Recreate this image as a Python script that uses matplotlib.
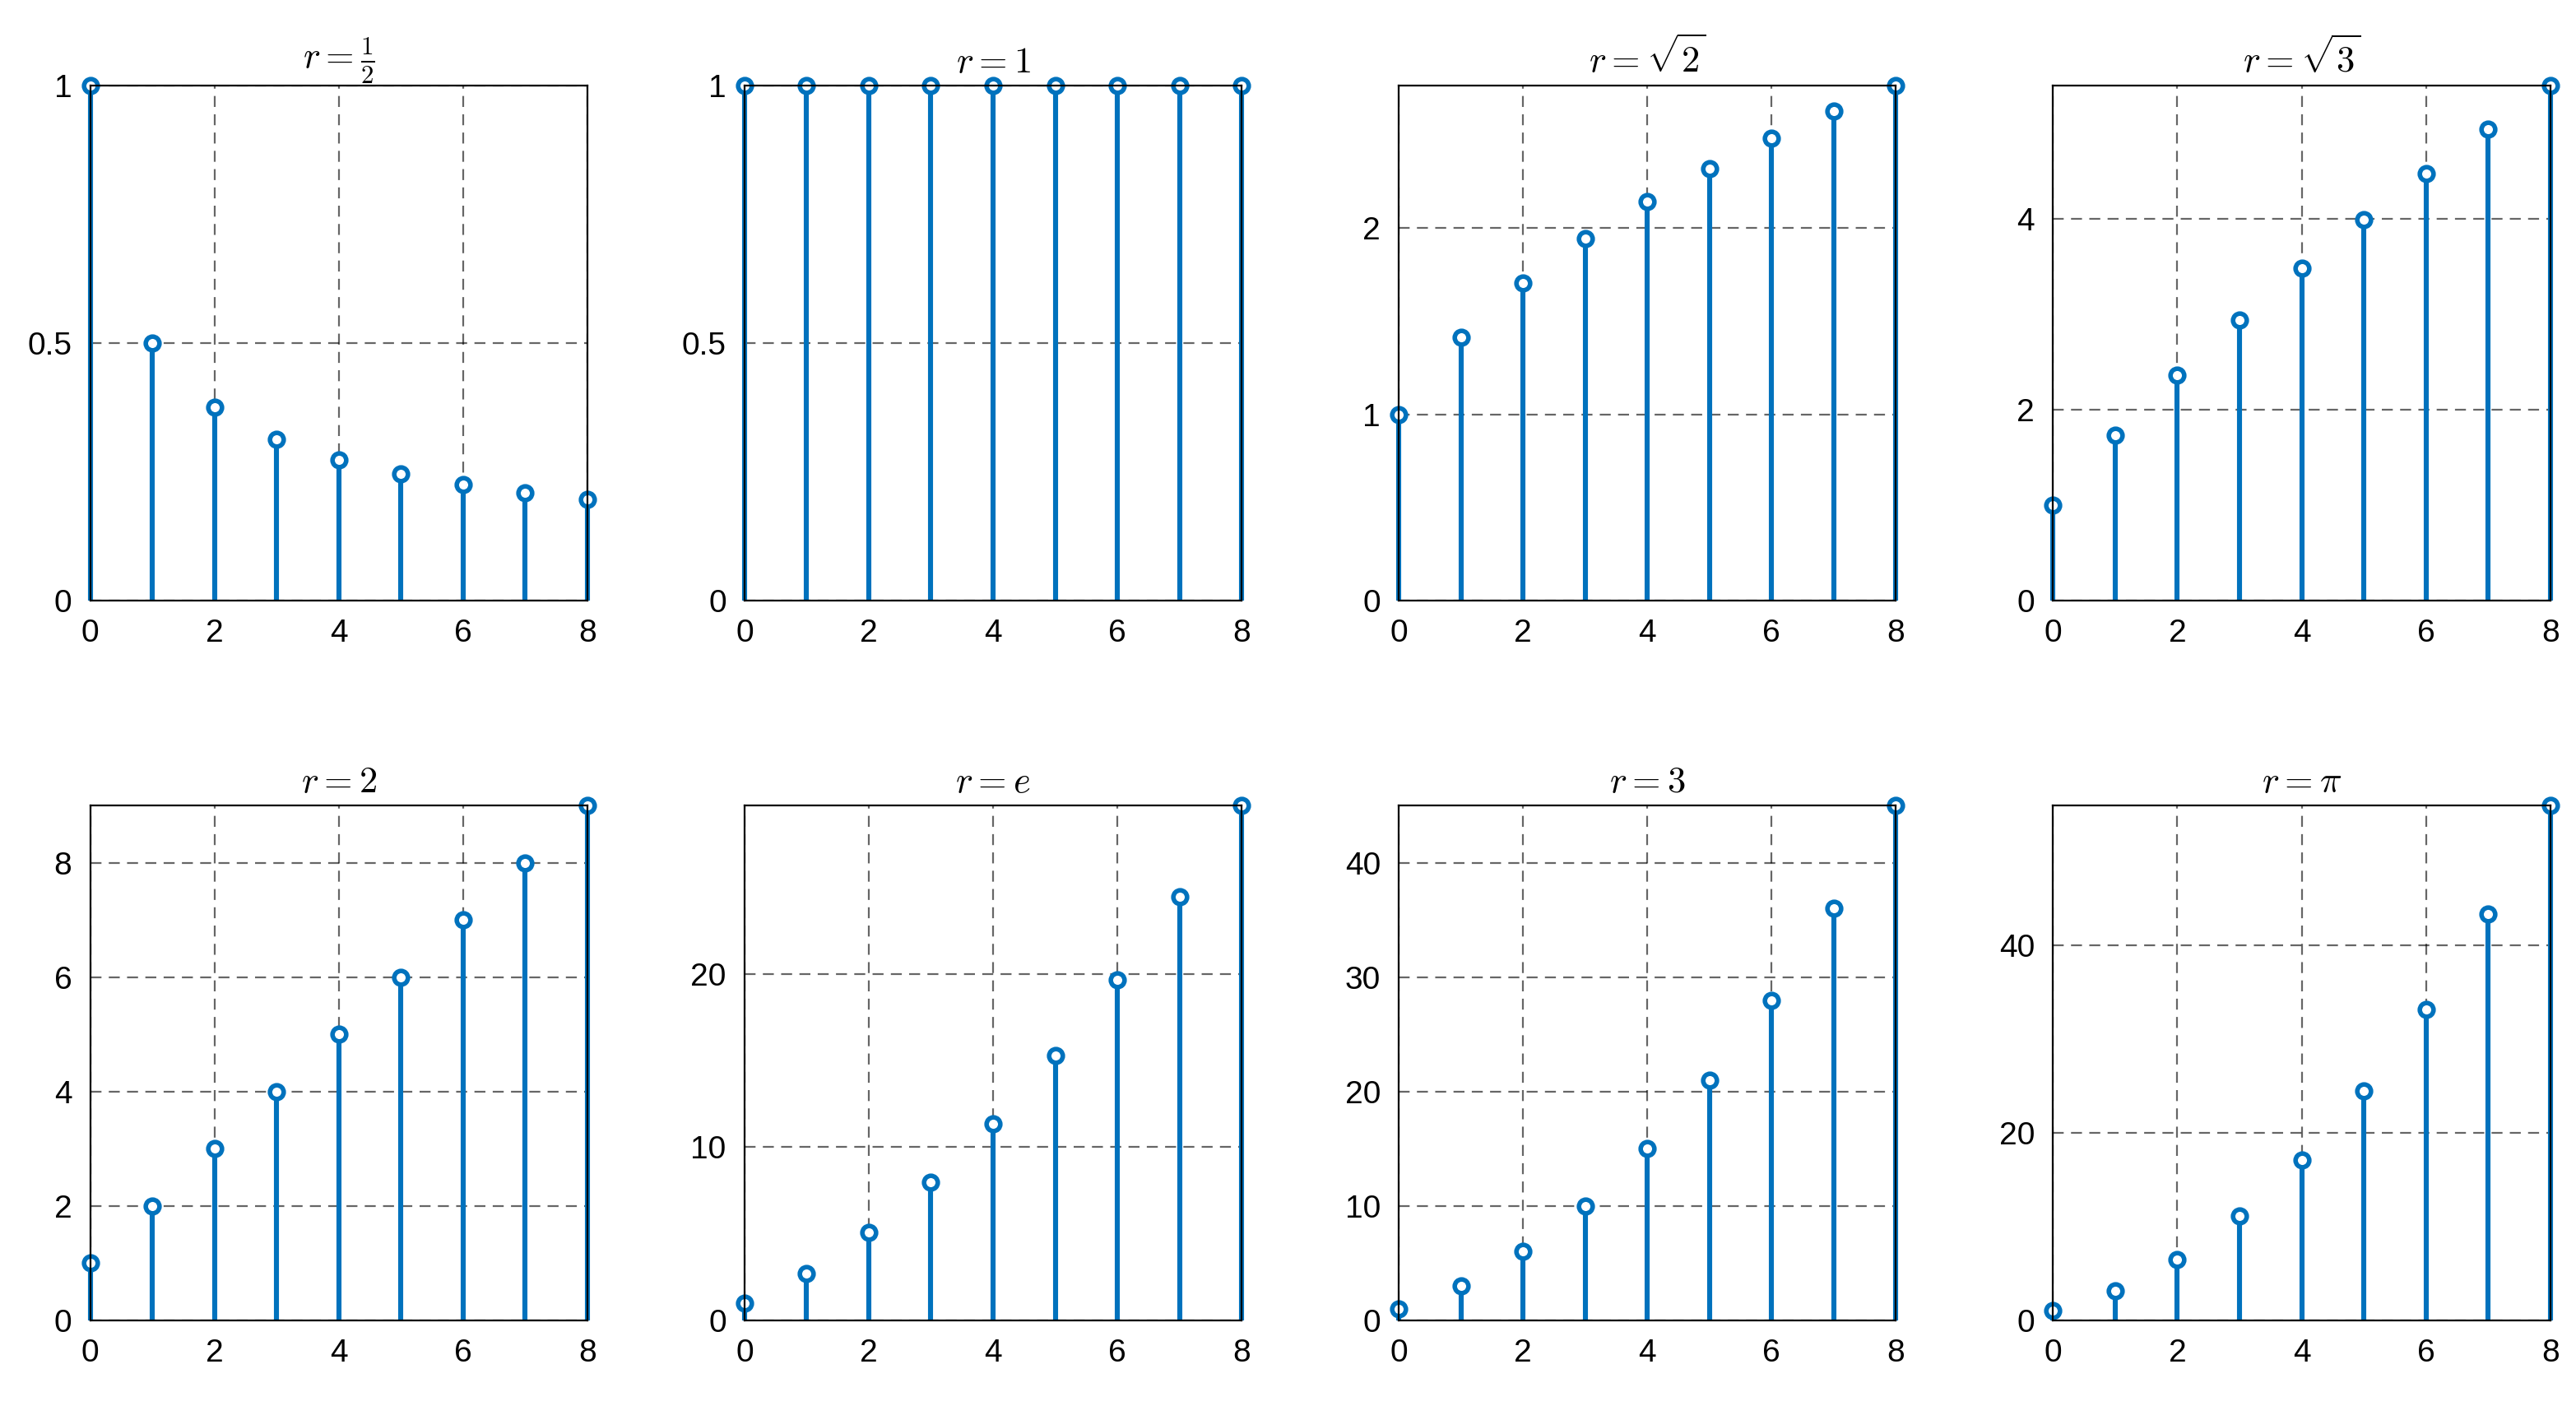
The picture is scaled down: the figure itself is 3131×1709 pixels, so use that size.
import matplotlib
matplotlib.use("Agg")
import matplotlib.pyplot as plt

plt.rcParams['mathtext.fontset'] = 'cm'
plt.rcParams['font.family'] = ['Arial', 'Liberation Sans', 'DejaVu Sans']

n = [0, 1, 2, 3, 4, 5, 6, 7, 8]
titles = [r'$r=\frac{1}{2}$', r'$r=1$', r'$r=\sqrt{2}$', r'$r=\sqrt{3}$',
          r'$r=2$', r'$r=e$', r'$r=3$', r'$r=\pi$']
series = [
    [1, 0.5, 0.375, 0.3125, 0.2734, 0.2461, 0.2256, 0.2095, 0.1964],
    [1, 1, 1, 1, 1, 1, 1, 1, 1],
    [1, 1.4142, 1.7071, 1.9428, 2.1440, 2.3216, 2.4818, 2.6287, 2.7648],
    [1, 1.7321, 2.3661, 2.9435, 3.4822, 3.9920, 4.4791, 4.9475, 5.4003],
    [1, 2, 3, 4, 5, 6, 7, 8, 9],
    [1, 2.7183, 5.0536, 7.9481, 11.3624, 15.2672, 19.6398, 24.4607, 29.7147],
    [1, 3, 6, 10, 15, 21, 28, 36, 45],
    [1, 3.1416, 6.5056, 11.1497, 17.1194, 24.4517, 33.1794, 43.3305, 54.9301],
]
yticks = [[0, 0.5, 1], [0, 0.5, 1], [0, 1, 2], [0, 2, 4],
          [0, 2, 4, 6, 8], [0, 10, 20], [0, 10, 20, 30, 40], [0, 20, 40]]

color = '#0072BD'
fig = plt.figure(figsize=(15.655, 8.545), dpi=200)
for i in range(8):
    row, col = divmod(i, 4)
    left = 0.035 + col * 0.254
    bottom = 0.573 if row == 0 else 0.061
    ax = fig.add_axes([left, bottom, 0.193, 0.366])
    ml, sl, bl = ax.stem(n, series[i], basefmt=' ')
    plt.setp(sl, color=color, linewidth=2.2)
    plt.setp(ml, color=color, markerfacecolor='white', markeredgewidth=2, markersize=6)
    ml.set_clip_on(False)
    sl.set_clip_on(False)
    ax.set_xlim(0, 8)
    ax.set_ylim(0, max(series[i]))
    ax.set_xticks([0, 2, 4, 6, 8])
    ax.set_yticks(yticks[i])
    ax.set_yticklabels([('%g' % v) for v in yticks[i]])
    ax.grid(True, color='black', linestyle=(0, (6, 4)), linewidth=0.8, alpha=0.6)
    ax.set_axisbelow(True)
    ax.tick_params(labelsize=14, direction='in', length=0, pad=8)
    ax.set_title(titles[i], fontsize=16)
    for s in ax.spines.values():
        s.set_linewidth(0.8)

fig.savefig('out.png', dpi=200)
